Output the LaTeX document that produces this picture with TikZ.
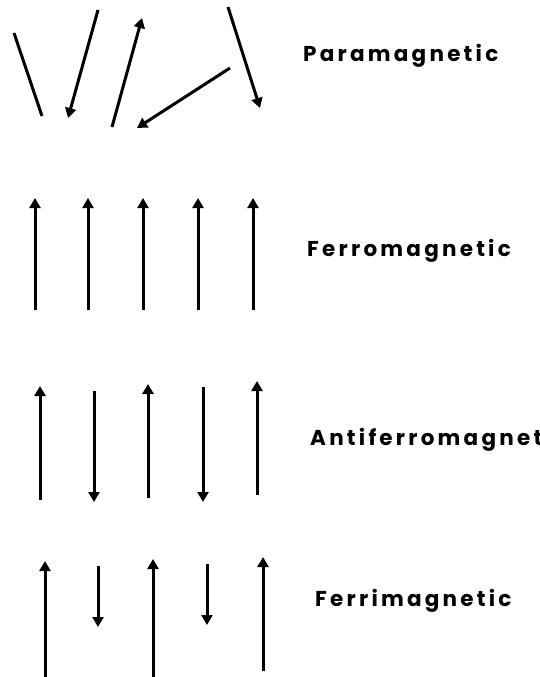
\documentclass[tikz,border=0pt]{standalone}
\usepackage{fontspec}
\setmainfont{Poppins}[LetterSpace=15]
\usetikzlibrary{arrows.meta}
\tikzset{
  spin/.style={line width=3pt, -{Triangle[width=11pt,length=10pt]}},
  bar/.style={line width=3pt},
  lbl/.style={anchor=base west, inner sep=0pt, font=\fontsize{21.5}{26}\selectfont\bfseries}
}
\begin{document}
\begin{tikzpicture}[x=1pt,y=-1pt]
\useasboundingbox (0,0) rectangle (539,677);
% Paramagnetic
\coordinate (p1a) at (14,33);  \coordinate (p1b) at (42,116);
\coordinate (p2a) at (98,10);  \coordinate (p2b) at (68,118);
\coordinate (p3a) at (112,127);\coordinate (p3b) at (142,18);
\coordinate (p4a) at (230,68); \coordinate (p4b) at (137,128);
\coordinate (p5a) at (228,7);  \coordinate (p5b) at (260,108);
\draw[bar] (p1a) -- (p1b);
\draw[spin] (p2a) -- (p2b);
\draw[spin] (p3a) -- (p3b);
\draw[spin] (p4a) -- (p4b);
\draw[spin] (p5a) -- (p5b);
\node[lbl] (para) at (303,62) {Paramagnetic};
% Ferromagnetic
\foreach \i/\x in {1/35,2/88,3/143,4/198,5/253}{
  \coordinate (f\i a) at (\x,310); \coordinate (f\i b) at (\x,198);
  \draw[spin] (f\i a) -- (f\i b);
}
\node[lbl] (ferro) at (307,256) {Ferromagnetic};
% Antiferromagnetic
\coordinate (a1a) at (40,500);  \coordinate (a1b) at (40,386);
\coordinate (a2a) at (94,391);  \coordinate (a2b) at (94,502);
\coordinate (a3a) at (148,498); \coordinate (a3b) at (148,384);
\coordinate (a4a) at (203,387); \coordinate (a4b) at (203,502);
\coordinate (a5a) at (257,495); \coordinate (a5b) at (257,381);
\foreach \i in {1,...,5}{ \draw[spin] (a\i a) -- (a\i b); }
\node[lbl] (anti) at (310,445) {Antiferromagnetic};
% Ferrimagnetic
\coordinate (r1a) at (45,677);  \coordinate (r1b) at (45,561);
\coordinate (r2a) at (98,566);  \coordinate (r2b) at (98,627);
\coordinate (r3a) at (153,677); \coordinate (r3b) at (153,559);
\coordinate (r4a) at (207,564); \coordinate (r4b) at (207,625);
\coordinate (r5a) at (263,671); \coordinate (r5b) at (263,557);
\foreach \i in {1,...,5}{ \draw[spin] (r\i a) -- (r\i b); }
\node[lbl] (ferri) at (315,606) {Ferrimagnetic};
\end{tikzpicture}
\end{document}
